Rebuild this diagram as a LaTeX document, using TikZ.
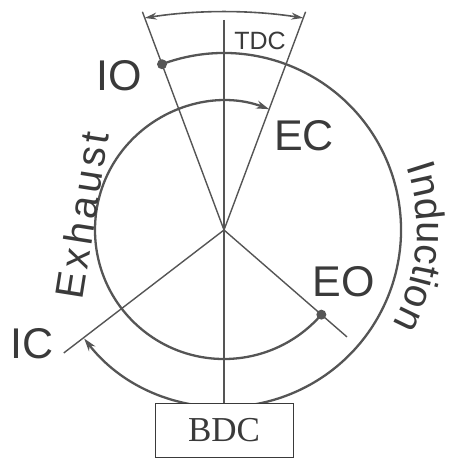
\documentclass[tikz,border=0pt]{standalone}
\usepackage{fontspec}
\setmainfont{Liberation Serif}
\setsansfont{Liberation Sans}
\newfontfamily\lblfont{Liberation Sans}
\newfontfamily\exhfont[LetterSpace=10]{Liberation Sans}
\usetikzlibrary{arrows.meta,decorations.text,calc}
\definecolor{ink}{HTML}{3A3A3A}
\definecolor{linec}{HTML}{555555}
\begin{document}
\begin{tikzpicture}[x=1pt,y=1pt,
  circ/.style={draw=linec,line width=2.3pt},
  radial/.style={draw=linec,line width=1.4pt},
  lbl/.style={text=ink,font=\lblfont\fontsize{43}{43}\selectfont,inner sep=0pt},
  rotlbl/.style={text=ink,font=\exhfont\fontsize{40}{40}\selectfont,inner sep=0pt},
  smalllbl/.style={text=ink,font=\lblfont\fontsize{25}{25}\selectfont,inner sep=0pt},
  tip/.style={-{Stealth[length=13pt,width=8pt]}},
  dotc/.style={circle,fill=linec,inner sep=0pt,minimum size=10pt},
  boxc/.style={draw=ink,line width=0.8pt,fill=white,minimum width=138pt,minimum height=54pt,inner sep=0pt,text=ink,font=\fontsize{35}{35}\selectfont}
]
\useasboundingbox (0,0) rectangle (448,-460);
\coordinate (C) at (224,-230);
\coordinate (ioEnd) at ($(C)+(110.5:233)$);
\coordinate (ecEnd) at ($(C)+(69.5:233)$);
\coordinate (icEnd) at ($(C)+(217.5:202)$);
\coordinate (eoEnd) at ($(C)+(-41:163)$);
\coordinate (tdcTop) at (224,-20);
\coordinate (tl) at ($(C)+(110.5:226.4)$);
\coordinate (oStart) at ($(C)+(110.5:177)$);
\coordinate (iStart) at ($(C)+(-41:129)$);

% radial lines
\draw[radial] (C) -- (ioEnd);
\draw[radial] (C) -- (ecEnd);
\draw[radial] (C) -- (icEnd);
\draw[radial] (C) -- (eoEnd);

% top span arc
\draw[draw=linec,line width=1.6pt,{Stealth[length=12pt,width=7pt]}-{Stealth[length=12pt,width=7pt]}]
  (tl) arc[start angle=98.84, end angle=81.16, radius=516];

% induction (outer) arc
\draw[circ,tip] (oStart) arc[start angle=110.5, end angle=-142.2, radius=177];
% exhaust (inner) arc
\draw[circ,tip] (iStart) arc[start angle=-41, end angle=-290.5, radius=129];

\node[dotc] (iodot) at (oStart) {};
\node[dotc] (eodot) at (iStart) {};

% BDC box and TDC line
\node[boxc] (bdc) at (224,-430) {BDC};
\draw[draw=linec,line width=1.1pt] (tdcTop) -- (bdc.north);

% labels
\node[smalllbl] (tdc) at (260,-41) {TDC};
\node[lbl] (io) at (119,-76) {IO};
\node[lbl] (ec) at (304,-136) {EC};
\node[lbl] (eo) at (344,-282) {EO};
\node[lbl] (ic) at (32,-344) {IC};
\node[rotlbl,rotate=81] (exh) at (82,-215) {Exhaust};
\path[decorate,decoration={text along path,text align=center,text color=ink,
  text={|\lblfont\fontsize{40}{40}\selectfont|Induction}}]
  ($(C)+(30:193)$) arc[start angle=30, end angle=-40, radius=193];
\end{tikzpicture}
\end{document}
